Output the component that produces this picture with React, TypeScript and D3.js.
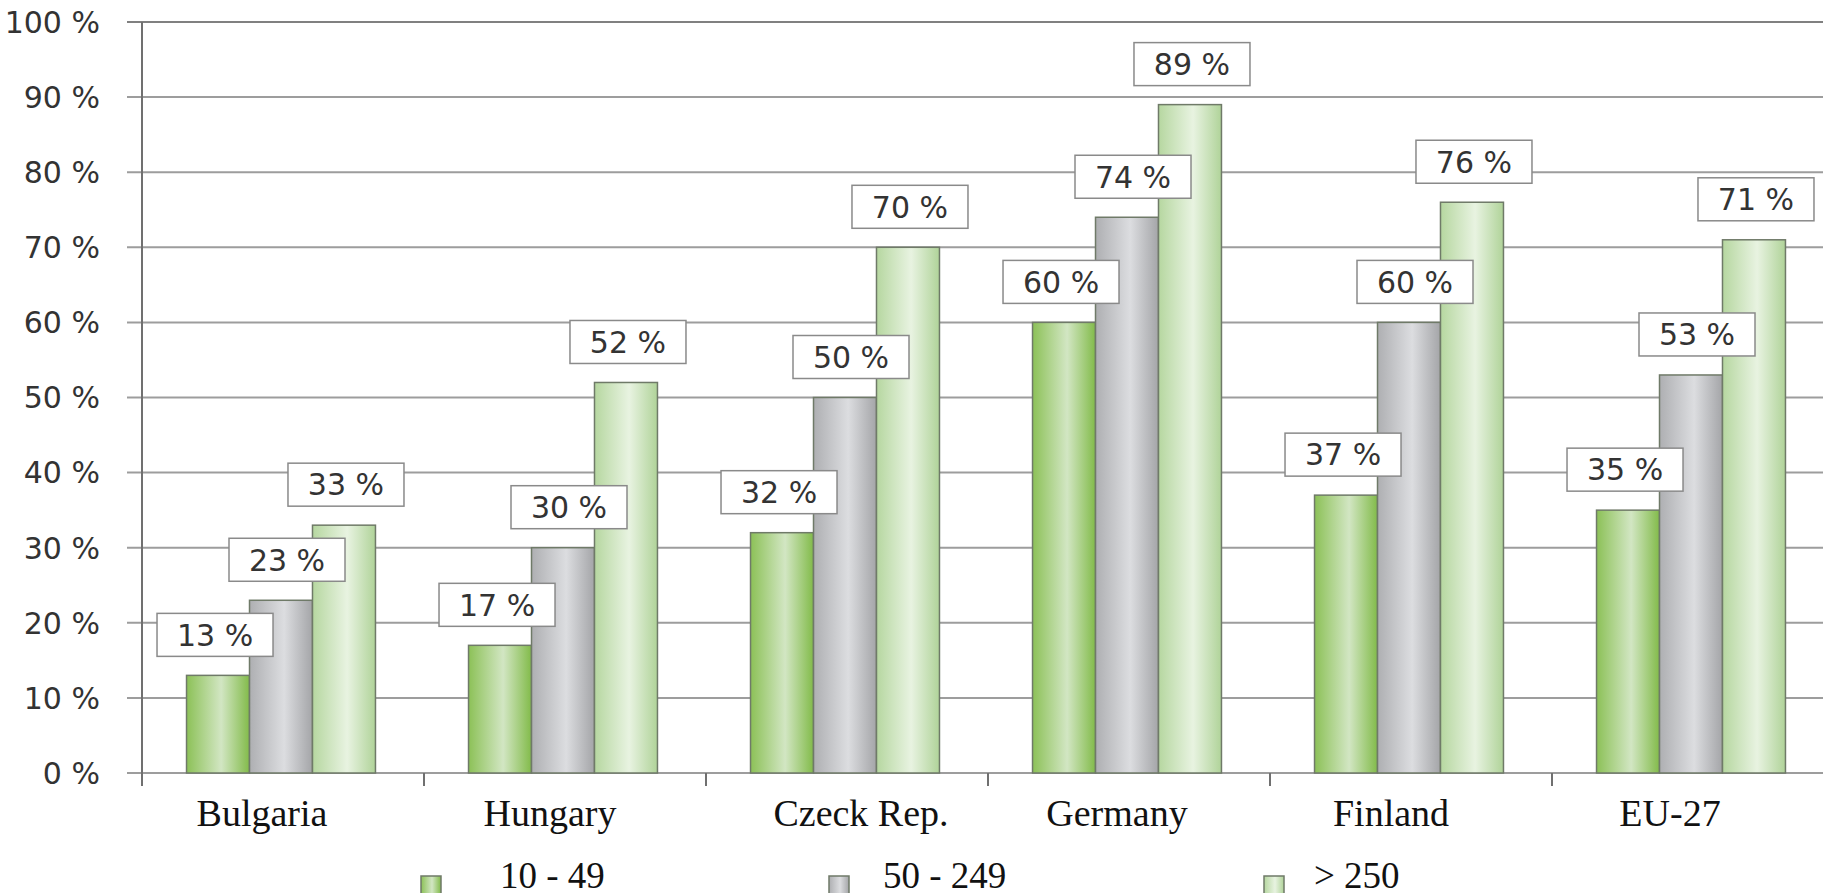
import * as d3 from "d3";

const categories = ["Bulgaria", "Hungary", "Czeck Rep.", "Germany", "Finland", "EU-27"];
const seriesNames = ["10 - 49", "50 - 249", "> 250"];
const small = [13, 17, 32, 60, 37, 35];
const medium = [23, 30, 50, 74, 60, 53];
const large = [33, 52, 70, 89, 76, 71];
const yTicks = [0, 10, 20, 30, 40, 50, 60, 70, 80, 90, 100];

const seriesValues = [small, medium, large];

// bar gradient colours: left, highlight, right
const palette = [
  ["#8cc157", "#d2e6c3", "#82bb4a"],
  ["#aeafb2", "#dcdde0", "#a4a5a8"],
  ["#b6d7a0", "#e8f3e1", "#b0d399"],
];

const width = 1823;
const height = 893;
const left = 142;
const right = 1834;
const top = 22;
const bottom = 773;

// small layout nudges seen in the original
const labelNudge = [-21, -15, 14, -12, -20, -23];
const boxNudge = [-3, 6, 2];
const legendSquareX = [421, 829, 1264];
const legendTextX = [500, 883, 1314];

const App = () => {
  const x0 = d3.scaleBand<string>()
    .domain(categories)
    .range([left, right])
    .paddingInner(0.33)
    .paddingOuter(0.165);

  const xEdge = d3.scaleBand<string>().domain(categories).range([left, right]).padding(0);

  const x1 = d3.scaleBand<string>()
    .domain(seriesNames)
    .range([0, x0.bandwidth()]);

  const y = d3.scaleLinear().domain([0, 100]).range([bottom, top]);

  const boxW = 116;
  const boxH = 43;

  return (
    <svg width={width} height={height} style={{ position: "absolute", left: 0, top: 0, background: "#fff" }}>
      <defs>
        {palette.map((c, i) => (
          <linearGradient key={i} id={`g${i}`} x1="0" x2="1" y1="0" y2="0">
            <stop offset="0" stopColor={c[0]} />
            <stop offset="0.55" stopColor={c[1]} />
            <stop offset="1" stopColor={c[2]} />
          </linearGradient>
        ))}
      </defs>

      {/* grid */}
      <g>
        {yTicks.map(t => (
          <g key={t}>
            <line x1={127} x2={right} y1={y(t)} y2={y(t)} stroke={t === 100 ? "#808080" : "#9d9d9d"} strokeWidth={2} />
            <text x={100} y={y(t)} dy="0.36em" textAnchor="end" fontFamily="DejaVu Sans" fontSize={30} fill="#333">
              {`${t} %`}
            </text>
          </g>
        ))}
      </g>

      {/* axes */}
      <line x1={left} x2={left} y1={top} y2={bottom + 13} stroke="#707070" strokeWidth={2} />
      {categories.map(c => (
        <line key={c} x1={xEdge(c)! + xEdge.bandwidth()} x2={xEdge(c)! + xEdge.bandwidth()} y1={bottom} y2={bottom + 13} stroke="#707070" strokeWidth={2} />
      ))}

      {/* bars */}
      {categories.map((c, ci) => (
        <g key={c} transform={`translate(${x0(c)! - 2},0)`}>
          {seriesNames.map((s, si) => {
            const v = seriesValues[si][ci];
            return (
              <rect key={s} x={x1(s)} y={y(v)} width={x1.bandwidth()} height={bottom - y(v)}
                fill={`url(#g${si})`} stroke="#6f7a68" strokeWidth={1.5} />
            );
          })}
        </g>
      ))}

      {/* value labels */}
      {categories.map((c, ci) => (
        <g key={c} transform={`translate(${x0(c)! - 2},0)`}>
          {seriesNames.map((s, si) => {
            const v = seriesValues[si][ci];
            const cx = x1(s)! + x1.bandwidth() / 2 + boxNudge[si];
            const by = y(v) - 19 - boxH;
            return (
              <g key={s}>
                <rect x={cx - boxW / 2} y={by} width={boxW} height={boxH} fill="#fff" stroke="#8a8a8a" strokeWidth={1.5} />
                <text x={cx} y={by + boxH / 2} dy="0.36em" textAnchor="middle" fontFamily="DejaVu Sans" fontSize={30} fill="#333">
                  {`${v} %`}
                </text>
              </g>
            );
          })}
        </g>
      ))}

      {/* category labels */}
      {categories.map((c, ci) => (
        <text key={c} x={x0(c)! + x0.bandwidth() / 2 + labelNudge[ci]} y={826} textAnchor="middle"
          fontFamily="Liberation Serif" fontSize={38} fill="#111">
          {c}
        </text>
      ))}

      {/* legend */}
      {seriesNames.map((s, si) => (
        <g key={s}>
          <rect x={legendSquareX[si]} y={876} width={20} height={18} fill={`url(#g${si})`} stroke="#6f7a68" strokeWidth={1.5} />
          <text x={legendTextX[si]} y={888} fontFamily="Liberation Serif" fontSize={37} fill="#111">
            {s}
          </text>
        </g>
      ))}
    </svg>
  );
};

export default App;
